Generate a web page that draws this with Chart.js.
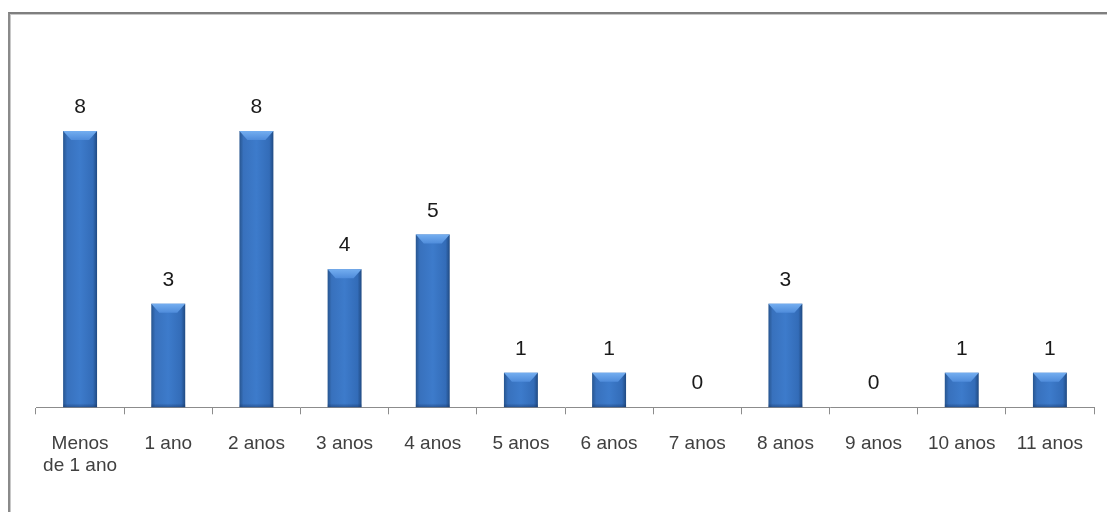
<!DOCTYPE html>
<html lang="pt">
<head>
    <meta charset="UTF-8">
    <title>Tempo de serviço</title>
    <style>
        html, body {
            margin: 0;
            padding: 0;
            background: #fff;
            overflow: hidden;
        }
        .frame {
            position: absolute;
            left: 8px;
            top: 12px;
            width: 1200px;
            height: 600px;
            border-top: 2px solid #7f7f7f;
            border-left: 2px solid #8a8a8a;
            box-shadow: inset 1px 1px 0 #c8c8c8;
        }
        .wrap {
            position: absolute;
            left: 0;
            top: 0;
            width: 1107px;
            height: 512px;
        }
    </style>
</head>
<body>
    <div class="frame"></div>
    <div class="wrap">
        <canvas id="myChart" width="1107" height="512"></canvas>
    </div>
    <script src="https://cdn.jsdelivr.net/npm/chart.js@4/dist/chart.umd.min.js"></script>
    <script>
        const categorias = [
            ['Menos', 'de 1 ano'], '1 ano', '2 anos', '3 anos', '4 anos', '5 anos',
            '6 anos', '7 anos', '8 anos', '9 anos', '10 anos', '11 anos'
        ];
        const valores = [8, 3, 8, 4, 5, 1, 1, 0, 3, 0, 1, 1];

        const BAR_PCT = 0.385;

        // horizontal gradient across each bar: darker edges, brighter middle
        function barFill(context) {
            const chart = context.chart;
            const xs = chart.scales && chart.scales.x;
            if (!chart.chartArea || !xs) return '#3b78c6';
            const cx = xs.getPixelForValue(context.dataIndex);
            const w = (xs.width / categorias.length) * BAR_PCT;
            if (!isFinite(cx) || !isFinite(w)) return '#3b78c6';
            const x0 = cx - w / 2;
            const g = chart.ctx.createLinearGradient(x0, 0, x0 + w, 0);
            g.addColorStop(0, '#27558f');
            g.addColorStop(0.12, '#3871bd');
            g.addColorStop(0.5, '#3d7bcb');
            g.addColorStop(0.88, '#336cb8');
            g.addColorStop(1, '#204a82');
            return g;
        }

        // lighter bevel on the top of each bar + value labels above
        const bevelAndLabels = {
            id: 'bevelAndLabels',
            afterDatasetsDraw(chart) {
                const ctx = chart.ctx;
                const meta = chart.getDatasetMeta(0);
                ctx.save();
                meta.data.forEach((bar, i) => {
                    const v = valores[i];
                    const w = bar.width;
                    const left = bar.x - w / 2;
                    const h = bar.base - bar.y;
                    if (v > 0) {
                        const b = Math.min(9, h / 2);
                        const grad = ctx.createLinearGradient(0, bar.y, 0, bar.y + b);
                        grad.addColorStop(0, '#74aef0');
                        grad.addColorStop(1, '#4f8cdb');
                        ctx.fillStyle = grad;
                        ctx.beginPath();
                        ctx.moveTo(left, bar.y);
                        ctx.lineTo(left + w, bar.y);
                        ctx.lineTo(left + w - 8, bar.y + b);
                        ctx.lineTo(left + 8, bar.y + b);
                        ctx.closePath();
                        ctx.fill();
                        // bottom shading
                        const sh = ctx.createLinearGradient(0, bar.base - 4, 0, bar.base);
                        sh.addColorStop(0, 'rgba(20,50,100,0)');
                        sh.addColorStop(1, 'rgba(20,50,100,0.5)');
                        ctx.fillStyle = sh;
                        ctx.fillRect(left, bar.base - 4, w, 4);
                    }
                    ctx.fillStyle = '#1a1a1a';
                    ctx.font = '21px "Liberation Sans", Arial, sans-serif';
                    ctx.textAlign = 'center';
                    ctx.textBaseline = 'alphabetic';
                    ctx.fillText(String(v), bar.x, bar.y - 18);
                });
                ctx.restore();
            }
        };

        const ctx = document.getElementById('myChart').getContext('2d');
        const myChart = new Chart(ctx, {
            type: 'bar',
            data: {
                labels: categorias,
                datasets: [{
                    data: valores,
                    backgroundColor: barFill,
                    borderWidth: 0,
                    barPercentage: BAR_PCT,
                    categoryPercentage: 1
                }]
            },
            plugins: [bevelAndLabels],
            options: {
                responsive: false,
                animation: false,
                layout: {
                    padding: { left: 36, right: 13, top: 131, bottom: 16 }
                },
                plugins: {
                    legend: { display: false },
                    tooltip: { enabled: false }
                },
                scales: {
                    x: {
                        offset: true,
                        grid: {
                            offset: true,
                            drawOnChartArea: false,
                            drawTicks: true,
                            tickLength: 7,
                            color: '#8c8c8c',
                            lineWidth: 1
                        },
                        border: { color: '#8c8c8c', width: 1 },
                        ticks: {
                            color: '#404040',
                            padding: 19,
                            maxRotation: 0,
                            autoSkip: false,
                            font: { family: '"Liberation Sans", Arial, sans-serif', size: 19, lineHeight: 1.15 }
                        }
                    },
                    y: {
                        display: false,
                        min: 0,
                        max: 8
                    }
                }
            }
        });
    </script>
</body>
</html>
